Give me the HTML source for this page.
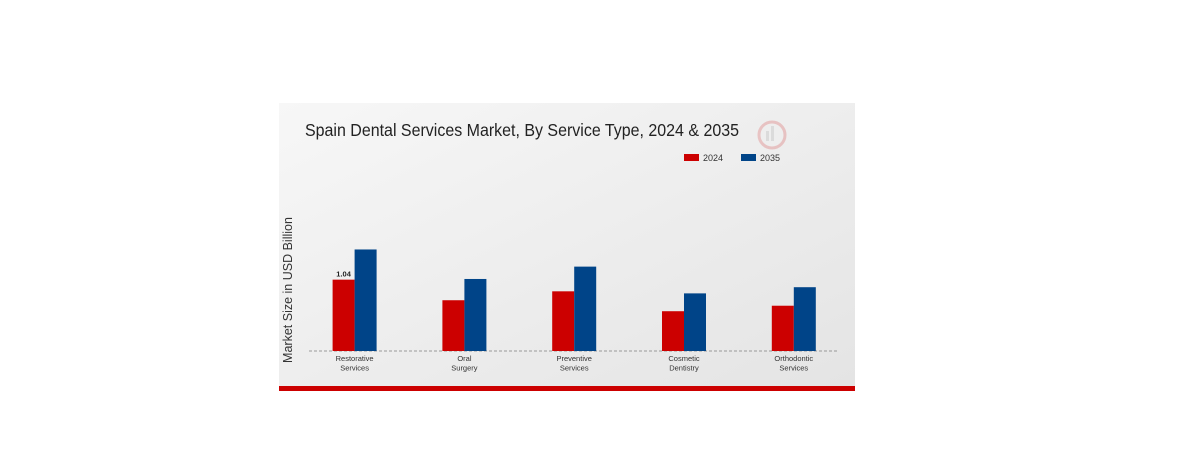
<!DOCTYPE html>
<html><head><meta charset="utf-8"><style>
body{margin:0;background:#fff;width:1184px;height:462px;overflow:hidden;font-family:"Liberation Sans",sans-serif}
</style></head><body>
<svg width="1184" height="462">
<defs><linearGradient id="bg" x1="0" y1="0" x2="1" y2="1"><stop offset="0" stop-color="#f7f7f7"/><stop offset="1" stop-color="#e4e4e4"/></linearGradient></defs>
<rect x="279" y="103" width="576" height="285" fill="url(#bg)"/>
<rect x="279" y="386" width="576" height="5" fill="#cc0000"/>
<g opacity="0.18"><circle cx="772" cy="135" r="13" fill="none" stroke="#c00" stroke-width="3"/><rect x="766" y="131" width="3" height="10" fill="#888"/><rect x="771" y="126" width="3" height="15" fill="#888"/></g>
<text x="305" y="136" font-size="17.5" fill="#222" textLength="434" lengthAdjust="spacingAndGlyphs">Spain Dental Services Market, By Service Type, 2024 &amp; 2035</text>
<rect x="684" y="154" width="15" height="7" fill="#cc0000"/>
<text x="703" y="161" font-size="9" fill="#333">2024</text>
<rect x="741" y="154" width="15" height="7" fill="#004488"/>
<text x="760" y="161" font-size="9" fill="#333">2035</text>
<text transform="translate(292,290) rotate(-90)" text-anchor="middle" font-size="12.5" fill="#333">Market Size in USD Billion</text>
<line x1="309" y1="351" x2="839" y2="351" stroke="#999" stroke-dasharray="3,2"/>
<g id="bars"></g>
</svg>
<script>
const categories=[["Restorative","Services"],["Oral","Surgery"],["Preventive","Services"],["Cosmetic","Dentistry"],["Orthodontic","Services"]];
const values2024=[1.04,0.74,0.87,0.58,0.66];
const values2035=[1.48,1.05,1.23,0.84,0.93];
const NS="http://www.w3.org/2000/svg";
const g=document.getElementById('bars');
const x0=354.6,step=109.8,bw=22,base=351,k=68.6;
const y=v=>base-v*k;
function mk(t,a){const e=document.createElementNS(NS,t);for(const n in a)e.setAttribute(n,a[n]);g.appendChild(e);return e;}
categories.forEach((c,i)=>{
 const cx=x0+i*step;
 const r=mk('rect',{x:cx-bw,y:y(values2024[i]),width:bw,height:values2024[i]*k,fill:'#cc0000'});
 
 
 const b=mk('rect',{x:cx,y:y(values2035[i]),width:bw,height:values2035[i]*k,fill:'#004488'});
 
 
 c.forEach((l,j)=>{const t=mk('text',{x:cx,y:361+j*9.5,'font-size':'7.5','text-anchor':'middle',fill:'#333'});t.textContent=l;
 
 });
});
const lab=mk('text',{x:x0-bw/2,y:y(values2024[0])-3,'font-size':'7.5','font-weight':'bold','text-anchor':'middle',fill:'#222'});
lab.textContent=values2024[0].toFixed(2);


</script>
</body></html>
